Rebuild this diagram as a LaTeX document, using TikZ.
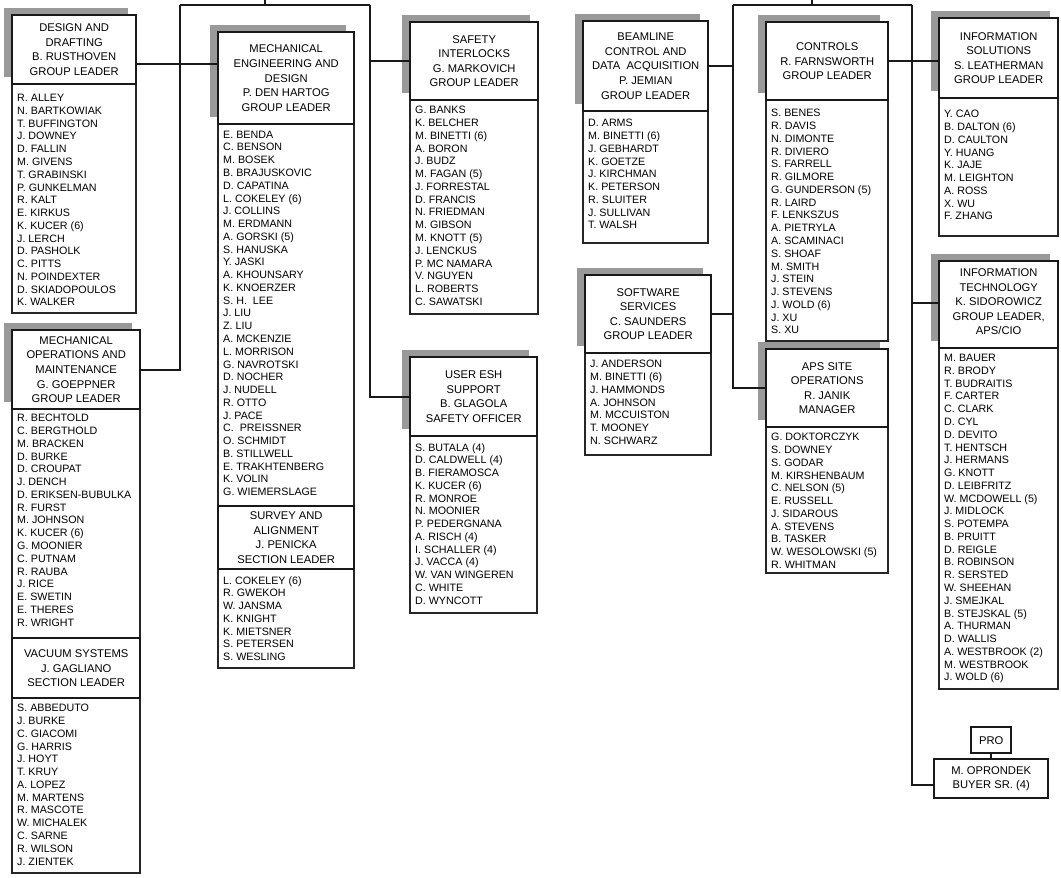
\documentclass[tikz,border=0pt]{standalone}
\usepackage{fontspec}
\setmainfont{Liberation Sans}
\usetikzlibrary{shadows,calc}
\newcommand{\hdrfont}{\fontsize{11.2}{14.6}\selectfont}
\newcommand{\nmfont}{\fontsize{10.7}{12.77}\selectfont}
\tikzset{
  hdr/.style={draw=black!90, line width=2.4pt, fill=white, align=center, font=\hdrfont, inner sep=1pt,
    general shadow={fill=black!40, shadow xshift=-8pt, shadow yshift=7pt}},
  hdrsub/.style={draw=black!90, line width=2.4pt, fill=white, align=center, font=\hdrfont, inner sep=1pt},
  lstbox/.style={draw=black!85, line width=1.5pt, inner sep=0pt},
  names/.style={align=left, font=\nmfont, inner sep=0pt, text=black},
  wire/.style={draw=black!90, line width=2pt},
}
% id, x, ytop, width, header height, list height, first-name centre y, header, names
\newcommand{\orggroup}[9]{%
  \node[lstbox, minimum width=#4, minimum height=#6, anchor=north west] (#1L) at (#2,#3+#5) {};
  \node[hdr, minimum width=#4, minimum height=#5, anchor=north west] (#1) at (#2,#3) {#8};
  \node[names, anchor=north west] (#1N) at (#2+6,#7-3.9) {#9};
}
\newcommand{\orgsection}[9]{%
  \node[lstbox, minimum width=#4, minimum height=#6, anchor=north west] (#1L) at (#2,#3+#5) {};
  \node[hdrsub, minimum width=#4, minimum height=#5, anchor=north west] (#1) at (#2,#3) {#8};
  \node[names, anchor=north west] (#1N) at (#2+6,#7-3.9) {#9};
}
\begin{document}
\begin{tikzpicture}[x=1pt,y=-1pt]
\fill[white] (0,0) rectangle (1061,878);
\useasboundingbox (0,0) rectangle (1061,878);

% ---------------- left tree ----------------
\orggroup{dd}{11}{14}{124}{69}{229}{98}{DESIGN AND\\DRAFTING\\B. RUSTHOVEN\\GROUP LEADER}
{R. ALLEY\\N. BARTKOWIAK\\T. BUFFINGTON\\J. DOWNEY\\D. FALLIN\\M. GIVENS\\T. GRABINSKI\\P. GUNKELMAN\\R. KALT\\E. KIRKUS\\K. KUCER (6)\\J. LERCH\\D. PASHOLK\\C. PITTS\\N. POINDEXTER\\D. SKIADOPOULOS\\K. WALKER}

\orggroup{mo}{11}{329}{128}{79}{229}{418}{MECHANICAL\\OPERATIONS AND\\MAINTENANCE\\G. GOEPPNER\\GROUP LEADER}
{R. BECHTOLD\\C. BERGTHOLD\\M. BRACKEN\\D. BURKE\\D. CROUPAT\\J. DENCH\\D. ERIKSEN-BUBULKA\\R. FURST\\M. JOHNSON\\K. KUCER (6)\\G. MOONIER\\C. PUTNAM\\R. RAUBA\\J. RICE\\E. SWETIN\\E. THERES\\R. WRIGHT}

\orgsection{vs}{11}{637}{128}{60}{175}{708}{VACUUM SYSTEMS\\J. GAGLIANO\\SECTION LEADER}
{S. ABBEDUTO\\J. BURKE\\C. GIACOMI\\G. HARRIS\\J. HOYT\\T. KRUY\\A. LOPEZ\\M. MARTENS\\R. MASCOTE\\W. MICHALEK\\C. SARNE\\R. WILSON\\J. ZIENTEK}

\orggroup{me}{217}{31}{136}{92}{382}{134.5}{MECHANICAL\\ENGINEERING AND\\DESIGN\\P. DEN HARTOG\\GROUP LEADER}
{E. BENDA\\C. BENSON\\M. BOSEK\\B. BRAJUSKOVIC\\D. CAPATINA\\L. COKELEY (6)\\J. COLLINS\\M. ERDMANN\\A. GORSKI (5)\\S. HANUSKA\\Y. JASKI\\A. KHOUNSARY\\K. KNOERZER\\S. H.\ \ LEE\\J. LIU\\Z. LIU\\A. MCKENZIE\\L. MORRISON\\G. NAVROTSKI\\D. NOCHER\\J. NUDELL\\R. OTTO\\J. PACE\\C.\ \ PREISSNER\\O. SCHMIDT\\B. STILLWELL\\E. TRAKHTENBERG\\K. VOLIN\\G. WIEMERSLAGE}

\orgsection{sa}{217}{505}{136}{63}{99}{580}{SURVEY AND\\ALIGNMENT\\J. PENICKA\\SECTION LEADER}
{L. COKELEY (6)\\R. GWEKOH\\W. JANSMA\\K. KNIGHT\\K. MIETSNER\\S. PETERSEN\\S. WESLING}

\orggroup{si}{409}{21}{128}{78}{214}{110}{SAFETY\\INTERLOCKS\\G. MARKOVICH\\GROUP LEADER}
{G. BANKS\\K. BELCHER\\M. BINETTI (6)\\A. BORON\\J. BUDZ\\M. FAGAN (5)\\J. FORRESTAL\\D. FRANCIS\\N. FRIEDMAN\\M. GIBSON\\M. KNOTT (5)\\J. LENCKUS\\P. MC NAMARA\\V. NGUYEN\\L. ROBERTS\\C. SAWATSKI}

\orggroup{ue}{409}{356}{127}{79}{177}{447}{USER ESH\\SUPPORT\\B. GLAGOLA\\SAFETY OFFICER}
{S. BUTALA (4)\\D. CALDWELL (4)\\B. FIERAMOSCA\\K. KUCER (6)\\R. MONROE\\N. MOONIER\\P. PEDERGNANA\\A. RISCH (4)\\I. SCHALLER (4)\\J. VACCA (4)\\W. VAN WINGEREN\\C. WHITE\\D. WYNCOTT}

% ---------------- right tree ----------------
\orggroup{bl}{582}{20}{125}{90}{132}{123}{BEAMLINE\\CONTROL AND\\DATA\ \ ACQUISITION\\P. JEMIAN\\GROUP LEADER}
{D. ARMS\\M. BINETTI (6)\\J. GEBHARDT\\K. GOETZE\\J. KIRCHMAN\\K. PETERSON\\R. SLUITER\\J. SULLIVAN\\T. WALSH}

\orggroup{ss}{584}{274}{126}{78}{102}{364}{SOFTWARE\\SERVICES\\C. SAUNDERS\\GROUP LEADER}
{J. ANDERSON\\M. BINETTI (6)\\J. HAMMONDS\\A. JOHNSON\\M. MCCUISTON\\T. MOONEY\\N. SCHWARZ}

\orggroup{co}{765}{21}{122}{78}{241}{113}{CONTROLS\\R. FARNSWORTH\\GROUP LEADER}
{S. BENES\\R. DAVIS\\N. DIMONTE\\R. DIVIERO\\S. FARRELL\\R. GILMORE\\G. GUNDERSON (5)\\R. LAIRD\\F. LENKSZUS\\A. PIETRYLA\\A. SCAMINACI\\S. SHOAF\\M. SMITH\\J. STEIN\\J. STEVENS\\J. WOLD (6)\\J. XU\\S. XU}

\orggroup{as}{765}{348}{122}{78}{146}{437}{APS SITE\\OPERATIONS\\R. JANIK\\MANAGER}
{G. DOKTORCZYK\\S. DOWNEY\\S. GODAR\\M. KIRSHENBAUM\\C. NELSON (5)\\E. RUSSELL\\J. SIDAROUS\\A. STEVENS\\B. TASKER\\W. WESOLOWSKI (5)\\R. WHITMAN}

\orggroup{is}{938}{17}{119}{80}{138}{114}{INFORMATION\\SOLUTIONS\\S. LEATHERMAN\\GROUP LEADER}
{Y. CAO\\B. DALTON (6)\\D. CAULTON\\Y. HUANG\\K. JAJE\\M. LEIGHTON\\A. ROSS\\X. WU\\F. ZHANG}

\orggroup{it}{938}{260}{119}{87}{341}{358}{INFORMATION\\TECHNOLOGY\\K. SIDOROWICZ\\GROUP LEADER,\\APS/CIO\rule[-6pt]{0pt}{6pt}}
{M. BAUER\\R. BRODY\\T. BUDRAITIS\\F. CARTER\\C. CLARK\\D. CYL\\D. DEVITO\\T. HENTSCH\\J. HERMANS\\G. KNOTT\\D. LEIBFRITZ\\W. MCDOWELL (5)\\J. MIDLOCK\\S. POTEMPA\\B. PRUITT\\D. REIGLE\\B. ROBINSON\\R. SERSTED\\W. SHEEHAN\\J. SMEJKAL\\B. STEJSKAL (5)\\A. THURMAN\\D. WALLIS\\A. WESTBROOK (2)\\M. WESTBROOK\\J. WOLD (6)}

\node[hdrsub, minimum width=40, minimum height=26, anchor=north west, inner sep=0pt] (pro) at (970,726) {PRO};
\node[hdrsub, minimum width=114, minimum height=39, anchor=north west, inner sep=0pt] (buyer) at (933,758) {M. OPRONDEK\\BUYER SR. (4)};

% ---------------- connectors ----------------
\coordinate (lt) at (265,0);
\coordinate (lj) at (265,5);
\coordinate (la) at (180,5);
\coordinate (lb) at (370,5);
\coordinate (ddme) at (180,64);
\draw[wire] (lt) -- (lj);
\draw[wire] (la) -- (lb);
\draw[wire] (la) |- (mo.east);
\draw[wire] (dd.east |- ddme) -- (me.west |- ddme);
\draw[wire] (lb) |- (ue.west);
\draw[wire] (si.west) -- (si.west -| lb);

\coordinate (rt) at (812,0);
\coordinate (rj) at (812,5);
\coordinate (ra) at (733,5);
\coordinate (rb) at (912,5);
\coordinate (bw) at ([yshift=-6pt]buyer.west);
\draw[wire] (rt) -- (rj);
\draw[wire] (ra) -- (rb);
\draw[wire] (ra) |- (as.west);
\draw[wire] (bl.east) -- (bl.east -| ra);
\draw[wire] (ss.east) -- (ss.east -| ra);
\draw[wire] (co.east) -- (co.east -| is.west);
\draw[wire] (it.west |- 0,303) -- (rb |- 0,303);
\draw[wire] (rb) |- (bw);
\draw[wire] (pro.south) -- (pro.south |- buyer.north);
\end{tikzpicture}
\end{document}
